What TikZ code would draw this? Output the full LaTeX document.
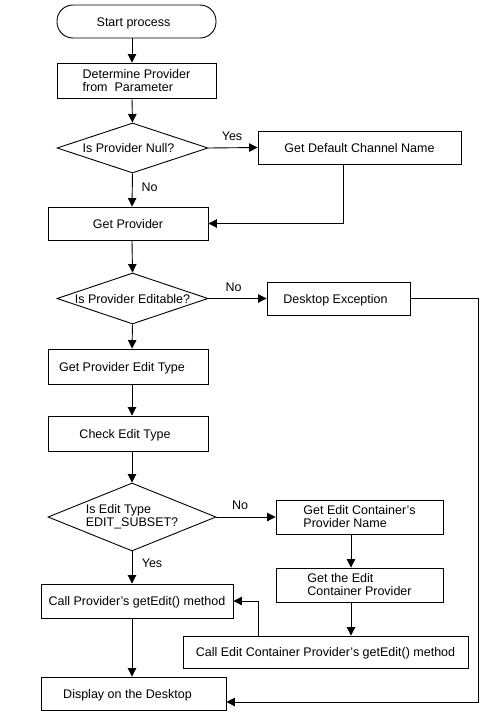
\documentclass[tikz,border=0pt]{standalone}
\usepackage{fontspec}
\setmainfont{Liberation Sans}
\usetikzlibrary{shapes.geometric,arrows.meta}
\begin{document}
\begin{tikzpicture}[x=1pt,y=-1pt,
  every node/.style={font=\fontsize{12.5}{13}\selectfont},
  box/.style={draw,line width=0.9pt,rectangle,inner sep=0pt,align=left},
  dia/.style={draw,line width=0.9pt,diamond,inner sep=0pt},
  oneline/.style={text height=10pt,text depth=1pt},
  arr/.style={line width=0.9pt,-{Triangle[length=8.5pt,width=8.5pt]}},
  lbl/.style={inner sep=0pt}]
\useasboundingbox (0,0) rectangle (481,712);
% nodes
\node[box,oneline,rounded corners=16pt,minimum width=159pt,minimum height=33pt] (start) at (136.5,21.5) {\hspace{-6pt}Start process};
\node[box,minimum width=159pt,minimum height=35pt] (det) at (136.5,80.5) {Determine Provider\\from\ \ Parameter};
\node[dia,oneline,minimum width=151pt,minimum height=50pt] (null) at (132.5,148) {\makebox[0pt]{\hspace{-8pt}Is Provider Null?}};
\node[box,oneline,minimum width=203pt,minimum height=33pt] (defch) at (359.5,147.5) {Get Default Channel Name};
\node[box,oneline,minimum width=160pt,minimum height=33pt] (getprov) at (128,223.5) {Get Provider};
\node[dia,oneline,minimum width=151pt,minimum height=51pt] (edit) at (132.5,298.5) {\makebox[0pt]{Is Provider Editable?}};
\node[box,oneline,minimum width=143pt,minimum height=33pt] (exc) at (338.5,298.5) {\hspace{-6pt}Desktop\ Exception};
\node[box,oneline,minimum width=160pt,minimum height=35pt] (ptype) at (128,366.5) {\hspace{-12pt}Get Provider Edit Type};
\node[box,oneline,minimum width=160pt,minimum height=35pt] (check) at (128,433.5) {\hspace{-6pt}Check Edit Type};
\node[dia,minimum width=168pt,minimum height=68pt] (subset) at (132,517) {\makebox[0pt]{\begin{tabular}{@{}l@{}}Is Edit Type\\EDIT\_SUBSET?\end{tabular}}};
\node[box,minimum width=167pt,minimum height=34pt] (contname) at (359.5,517) {Get Edit Container’s\\Provider Name};
\node[box,minimum width=167pt,minimum height=34pt] (getcont) at (359.5,585) {Get the Edit\\Container Provider};
\node[box,oneline,minimum width=285pt,minimum height=32pt] (callcont) at (325.5,652) {Call Edit Container Provider’s getEdit() method};
\node[box,oneline,minimum width=192pt,minimum height=34pt] (callprov) at (137,601) {Call Provider’s getEdit() method};
\node[box,oneline,minimum width=185pt,minimum height=33pt] (display) at (133.5,693.5) {\hspace{-12pt}Display on the Desktop};
% labels
\node[lbl] (y1) at (232,136.5) {Yes};
\node[lbl] (n1) at (149.5,187) {No};
\node[lbl] (n2) at (233.5,287.5) {No};
\node[lbl] (n3) at (240,505.5) {No};
\node[lbl] (y2) at (152,563.5) {Yes};
% helper coordinates
\coordinate (spine) at (132,0);
\coordinate (c1) at (343,0);
\coordinate (c2) at (351,0);
\coordinate (c3) at (258,0);
\coordinate (rt) at (478,702);
% connectors
\draw[arr] (start.south -| spine) -- (det.north -| spine);
\draw[arr] (det.south -| spine) -- (null.north);
\draw[arr] (null.east) -- (defch.west);
\draw[arr] (defch.south -| c1) |- (getprov.east);
\draw[arr] (null.south) -- (getprov.north -| spine);
\draw[arr] (getprov.south -| spine) -- (edit.north);
\draw[arr] (edit.east) -- (exc.west);
\draw[arr] (exc.east) -| (rt) -- (rt -| display.east);
\draw[arr] (edit.south) -- (ptype.north -| spine);
\draw[arr] (ptype.south -| spine) -- (check.north -| spine);
\draw[arr] (check.south -| spine) -- (subset.north);
\draw[arr] (subset.east) -- (contname.west);
\draw[arr] (contname.south -| c2) -- (getcont.north -| c2);
\draw[arr] (getcont.south -| c2) -- (callcont.north -| c2);
\draw[arr] (callcont.north -| c3) |- (callprov.east);
\draw[arr] (subset.south) -- (callprov.north -| spine);
\draw[arr] (callprov.south -| spine) -- (display.north -| spine);
\end{tikzpicture}
\end{document}
